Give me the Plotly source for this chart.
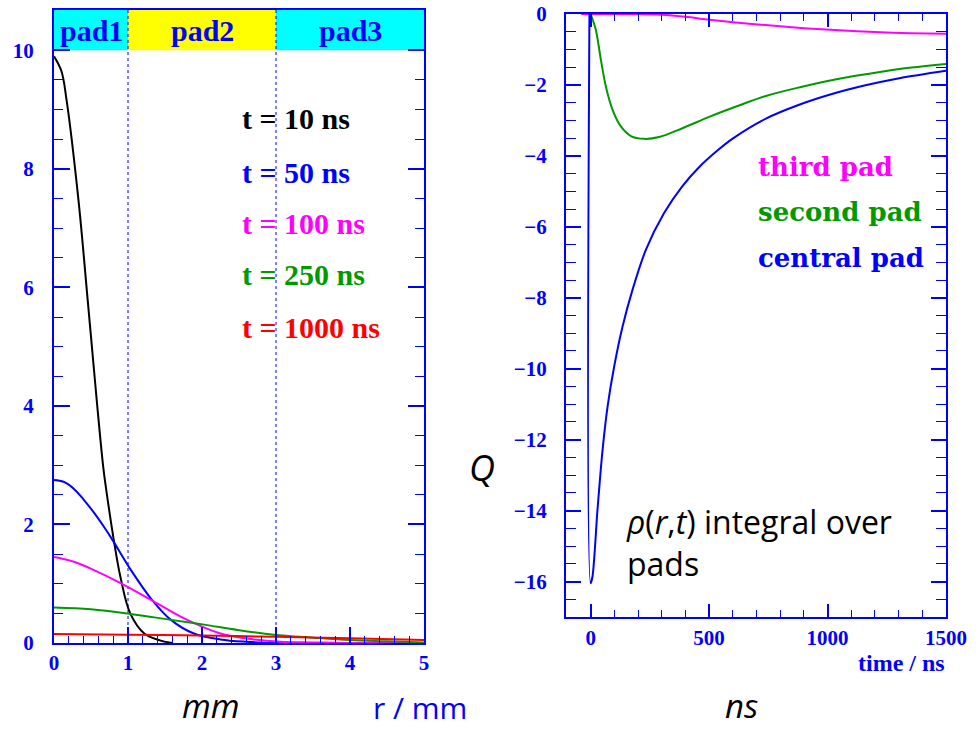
import plotly.graph_objects as go

# ---- charge density rho(r, t) on the pad plane (left panel) ----
r_10 = [0, 0.1, 0.17, 0.33, 0.455, 0.577, 0.667, 0.71, 0.80, 0.90, 1.03, 1.22, 1.44, 1.6]
rho_10 = [9.9, 9.65, 9.16, 7.48, 5.79, 4.10, 2.95, 2.55, 1.80, 1.10, 0.50, 0.16, 0.04, 0.0]

r_50 = [0, 0.13, 0.27, 0.4, 0.54, 0.67, 0.79, 1.04, 1.31, 1.58, 1.89, 2.25, 2.6, 3.0, 5.0]
rho_50 = [2.75, 2.72, 2.60, 2.42, 2.20, 1.97, 1.74, 1.23, 0.75, 0.39, 0.16, 0.06, 0.02, 0.0, 0.0]

r_100 = [0, 0.27, 0.54, 0.9, 1.35, 1.8, 2.25, 2.7, 3.06, 3.5, 4.0, 5.0]
rho_100 = [1.45, 1.37, 1.23, 1.01, 0.70, 0.39, 0.16, 0.06, 0.02, 0.01, 0.0, 0.0]

r_250 = [0, 0.5, 1.04, 1.58, 2.03, 2.48, 2.97, 3.5, 4.0, 4.5, 5.0]
rho_250 = [0.60, 0.57, 0.49, 0.39, 0.31, 0.22, 0.14, 0.09, 0.05, 0.03, 0.01]

r_1000 = [0, 1.0, 2.0, 3.0, 4.0, 5.0]
rho_1000 = [0.15, 0.14, 0.125, 0.105, 0.08, 0.05]

time_labels = ["t = 10 ns", "t = 50 ns", "t = 100 ns", "t = 250 ns", "t = 1000 ns"]
pad_labels = ["pad1", "pad2", "pad3"]
pad_edges = [0, 1, 3, 5]

# ---- induced charge per pad versus time (right panel) ----
t_third = [-40, 200, 300, 400, 500, 600, 750, 900, 1050, 1200, 1350, 1500]
q_third = [0, 0, -0.02, -0.08, -0.16, -0.23, -0.32, -0.40, -0.46, -0.51, -0.54, -0.56]

t_second = [0, 22, 43.5, 64.5, 92.6, 127.6, 170, 226, 289, 387.5, 500, 626,
            740, 880, 1022, 1160, 1303, 1500]
q_second = [0, -0.45, -1.30, -2.05, -2.70, -3.17, -3.44, -3.52, -3.47, -3.22, -2.90, -2.58,
            -2.31, -2.07, -1.86, -1.70, -1.55, -1.41]

t_central = [-5, 0, 8, 29, 50.5, 71.6, 99.6, 134.8, 177, 233, 310, 387.5, 457.6, 535,
             598, 740, 880, 1022, 1160, 1303, 1500]
q_central = [0, -16.05, -15.85, -13.97, -12.28, -11.06, -9.93, -8.81, -7.77, -6.65, -5.61,
             -4.85, -4.32, -3.85, -3.52, -2.95, -2.56, -2.25, -2.01, -1.81, -1.60]

pad_names = ["third pad", "second pad", "central pad"]

BLUE = "#0000ff"
MAGENTA = "#ff00ff"
GREEN = "#009a00"
RED = "#ff0000"
BLACK = "#000000"

W, H = 980, 730


def px(x):
    return x / W


def py(y):
    return 1 - y / H


fig = go.Figure()

left_series = [(r_10, rho_10, BLACK), (r_50, rho_50, BLUE), (r_100, rho_100, MAGENTA),
               (r_250, rho_250, GREEN), (r_1000, rho_1000, RED)]
for xs, ys, c in left_series:
    fig.add_trace(go.Scatter(x=xs, y=ys, mode="lines", xaxis="x", yaxis="y",
                             line=dict(color=c, width=2, shape="spline", smoothing=1.0),
                             showlegend=False, hoverinfo="skip"))

right_series = [(t_third, q_third, MAGENTA), (t_second, q_second, GREEN),
                (t_central, q_central, BLUE)]
for xs, ys, c in right_series:
    fig.add_trace(go.Scatter(x=xs, y=ys, mode="lines", xaxis="x2", yaxis="y2",
                             line=dict(color=c, width=2, shape="spline", smoothing=0.9),
                             showlegend=False, hoverinfo="skip"))

serif_tick = dict(family="Liberation Serif", size=21, color=BLUE, weight="bold")

axis_common = dict(showline=True, linecolor=BLUE, linewidth=2, showgrid=False,
                   zeroline=False, ticks="inside", tickcolor=BLUE, tickwidth=1.5,
                   tickfont=serif_tick, automargin=False)

y_top = 10.68
fig.update_layout(
    width=W, height=H,
    margin=dict(l=0, r=0, t=0, b=0, autoexpand=False),
    paper_bgcolor="white", plot_bgcolor="white",
    xaxis=dict(domain=[px(54), px(424)], range=[0, 5], anchor="y", mirror=True,
               tick0=0, dtick=1, ticklen=16, ticklabelstandoff=0,
               minor=dict(ticks="inside", dtick=0.2, ticklen=7, tickcolor=BLUE, tickwidth=1),
               **axis_common),
    yaxis=dict(domain=[py(643), py(10)], range=[0, y_top], anchor="x", mirror="ticks",
               tickmode="array", tickvals=[0, 2, 4, 6, 8, 10], ticklen=16,
               ticklabelstandoff=14,
               minor=dict(ticks="inside", tickmode="array",
                          tickvals=[v / 2 for v in range(1, 20) if v % 4 != 0],
                          ticklen=9, tickcolor=BLUE, tickwidth=1),
               **axis_common),
    xaxis2=dict(domain=[px(566), px(946)], range=[-104, 1500], anchor="y2", mirror="ticks",
                tick0=0, dtick=500, ticklen=13, ticklabelstandoff=1,
                minor=dict(ticks="inside", dtick=100, ticklen=7, tickcolor=BLUE, tickwidth=1),
                **axis_common),
    yaxis2=dict(domain=[py(617), py(14)], range=[-17, 0], anchor="x2", mirror="ticks",
                tick0=0, dtick=2, ticklen=15, ticklabelstandoff=13,
                minor=dict(ticks="inside", dtick=0.5, ticklen=10, tickcolor=BLUE, tickwidth=1),
                **axis_common),
)

# pad bands across the top of the left panel
band_colors = ["#00ffff", "#ffff00", "#00ffff"]
for i in range(3):
    fig.add_shape(type="rect", xref="x", yref="y", x0=pad_edges[i], x1=pad_edges[i + 1],
                  y0=10, y1=y_top, fillcolor=band_colors[i], line_width=0, layer="below")
    fig.add_annotation(x=(pad_edges[i] + pad_edges[i + 1]) / 2, y=(10 + y_top) / 2,
                       xref="x", yref="y", text=pad_labels[i], showarrow=False,
                       xanchor="center", yanchor="middle",
                       font=dict(family="Liberation Serif", size=30, color=BLUE, weight="bold"))

# dotted pad boundaries
for xb in pad_edges[1:3]:
    fig.add_shape(type="line", xref="x", yref="y", x0=xb, x1=xb, y0=0, y1=y_top,
                  line=dict(color=BLUE, width=1, dash="dot"), layer="below")

# time labels for the left panel
label_rows = [118, 172, 223, 275, 328]
label_colors = [BLACK, BLUE, MAGENTA, GREEN, RED]
for txt, yy, c in zip(time_labels, label_rows, label_colors):
    fig.add_annotation(x=px(240), y=py(yy), xref="paper", yref="paper", text=txt,
                       showarrow=False, xanchor="left", yanchor="middle",
                       font=dict(family="Liberation Serif", size=30, color=c, weight="bold"))

# pad labels for the right panel
for txt, yy, c in zip(pad_names, [167, 212, 258], [MAGENTA, GREEN, BLUE]):
    fig.add_annotation(x=px(756), y=py(yy), xref="paper", yref="paper", text=txt,
                       showarrow=False, xanchor="left", yanchor="middle",
                       font=dict(family="DejaVu Serif", size=26, color=c, weight="bold"))

# axis captions
fig.add_annotation(x=px(947), y=py(663), xref="paper", yref="paper", text="time / ns",
                   showarrow=False, xanchor="right", yanchor="middle",
                   font=dict(family="Liberation Serif", size=24, color=BLUE, weight="bold"))

sans = "Open Sans"
fig.add_annotation(x=px(624), y=py(542), xref="paper", yref="paper",
                   text="<i>ρ</i>(<i>r</i>,<i>t</i>) integral over<br>pads",
                   showarrow=False, xanchor="left", yanchor="middle", align="left",
                   font=dict(family=sans, size=32, color=BLACK))
fig.add_annotation(x=px(482), y=py(467), xref="paper", yref="paper", text="<i>Q</i>",
                   showarrow=False, xanchor="center", yanchor="middle",
                   font=dict(family=sans, size=36, color=BLACK))

# captions along the bottom edge, kept inside the page
bottom_captions = [("<i>mm</i>", 211, BLACK, 33), ("r / mm", 420, BLUE, 30),
                   ("<i>ns</i>", 741, BLACK, 33)]
for txt, xx, c, sz in bottom_captions:
    fig.add_annotation(x=px(xx), y=py(729), xref="paper", yref="paper", text=txt,
                       showarrow=False, xanchor="center", yanchor="bottom", borderpad=0,
                       font=dict(family=sans, size=sz, color=c))

fig.write_html("out.html")
